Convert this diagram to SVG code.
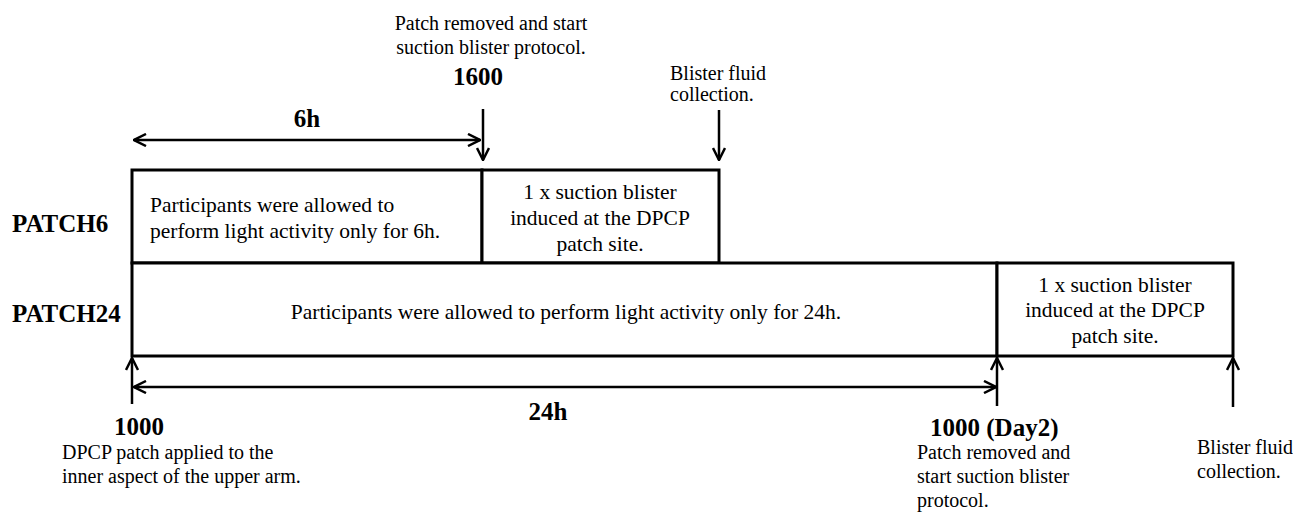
<svg xmlns="http://www.w3.org/2000/svg" width="1293" height="514" viewBox="0 0 1293 514" font-family="'Liberation Serif', 'Times New Roman', serif">
<defs>
<marker id="arr" viewBox="0 0 14 14" refX="13" refY="7" markerWidth="14" markerHeight="14" markerUnits="userSpaceOnUse" orient="auto-start-reverse">
<path d="M1,1 L13,7 L1,13" fill="none" stroke="#000" stroke-width="2.5"/>
</marker>
<style>
text{font-family:"Liberation Serif","Times New Roman",serif;fill:#000}
.box{fill:#fff;stroke:#000;stroke-width:3}
.ln{stroke:#000;stroke-width:2.5;fill:none}
.bx{font-size:21.5px}
.a{font-size:20px}
.b{font-size:25px;font-weight:bold}
.c{text-anchor:middle}
</style>
</defs>
<rect width="1293" height="514" fill="#fff"/>
<g id="patch6-activity">
<rect class="box" x="132" y="170" width="350" height="93"/>
<text class="bx" x="150" y="212">Participants were allowed to</text>
<text class="bx" x="150" y="238">perform light activity only for 6h.</text>
</g>
<g id="patch6-blister">
<rect class="box" x="482" y="170" width="237" height="93"/>
<text class="bx c" x="600" y="199">1 x suction blister</text>
<text class="bx c" x="600" y="225">induced at the DPCP</text>
<text class="bx c" x="600" y="251">patch site.</text>
</g>
<g id="patch24-activity">
<rect class="box" x="132" y="263" width="865" height="93"/>
<text class="bx c" x="566" y="319">Participants were allowed to perform light activity only for 24h.</text>
</g>
<g id="patch24-blister">
<rect class="box" x="997" y="263" width="236" height="93"/>
<text class="bx c" x="1115" y="292">1 x suction blister</text>
<text class="bx c" x="1115" y="317">induced at the DPCP</text>
<text class="bx c" x="1115" y="343">patch site.</text>
</g>
<g id="labels">
<text class="b" x="12" y="232">PATCH6</text>
<text class="b" x="12" y="322">PATCH24</text>
<text class="b c" x="307" y="127">6h</text>
<text class="b c" x="548" y="420">24h</text>
<text class="a c" x="491" y="30">Patch removed and start</text>
<text class="a c" x="491" y="54">suction blister protocol.</text>
<text class="b c" x="478" y="85">1600</text>
<text class="a" x="670" y="80">Blister fluid</text>
<text class="a" x="670" y="101">collection.</text>
<text class="b c" x="139" y="435">1000</text>
<text class="a" x="62" y="459">DPCP patch applied to the</text>
<text class="a" x="62" y="483">inner aspect of the upper arm.</text>
<text class="b" x="930" y="436">1000 (Day2)</text>
<text class="a" x="917" y="459">Patch removed and</text>
<text class="a" x="917" y="483">start suction blister</text>
<text class="a" x="917" y="507">protocol.</text>
<text class="a" x="1197" y="454">Blister fluid</text>
<text class="a" x="1197" y="478">collection.</text>
</g>
<g id="connectors">
<line class="ln" x1="134" y1="140" x2="480" y2="140" marker-start="url(#arr)" marker-end="url(#arr)"/>
<line class="ln" x1="483" y1="109" x2="483" y2="160" marker-end="url(#arr)"/>
<line class="ln" x1="719" y1="110" x2="719" y2="160" marker-end="url(#arr)"/>
<line class="ln" x1="132" y1="404" x2="132" y2="358" marker-end="url(#arr)"/>
<line class="ln" x1="134" y1="387" x2="996" y2="387" marker-start="url(#arr)" marker-end="url(#arr)"/>
<line class="ln" x1="997" y1="406" x2="997" y2="358" marker-end="url(#arr)"/>
<line class="ln" x1="1233" y1="407" x2="1233" y2="358" marker-end="url(#arr)"/>
</g>
</svg>
